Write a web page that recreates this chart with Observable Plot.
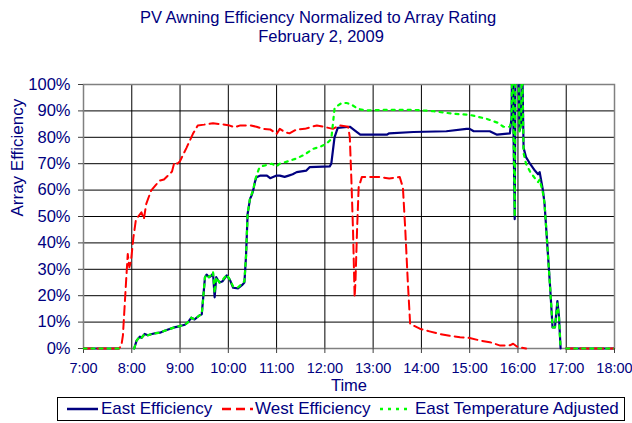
<!DOCTYPE html>
<html><head><meta charset="utf-8">
<script src="https://cdn.jsdelivr.net/npm/d3@7"></script>
<script src="https://cdn.jsdelivr.net/npm/@observablehq/plot@0.6"></script>
<style>
body{margin:0;background:#fff;font-family:"Liberation Sans",Arial,sans-serif;}
#wrap{position:relative;width:632px;height:423px;overflow:hidden;}
#legend{position:absolute;left:57px;top:397px;width:566px;height:22px;border:1px solid #000;box-sizing:content-box;}
.li{position:absolute;top:0;height:22px;line-height:22px;font-size:17px;color:#000080;white-space:nowrap;}
.ls{position:absolute;top:0;}
</style></head><body>
<div id="wrap"><div id="chart"></div><div id="legend"></div></div>
<script>
const title1 = "PV Awning Efficiency Normalized to Array Rating";
const title2 = "February 2, 2009";
const xLabel = "Time";
const yLabel = "Array Efficiency";
const seriesNames = ["East Efficiency", "West Efficiency", "East Temperature Adjusted"];
const xTicks = [7, 8, 9, 10, 11, 12, 13, 14, 15, 16, 17, 18];
const yTicks = [0, 0.1, 0.2, 0.3, 0.4, 0.5, 0.6, 0.7, 0.8, 0.9, 1.0];

const eastTime = ["7:00","7:44","7:50","8:03","8:06","8:10","8:12","8:16","8:20","8:25","8:30","8:35","8:40","8:47","8:53","9:00","9:06","9:10","9:14","9:18","9:24","9:27","9:29","9:31","9:33","9:36","9:39","9:41","9:43","9:45","9:49","9:53","9:58","10:02","10:06","10:12","10:17","10:20","10:22","10:24","10:27","10:29","10:31","10:33","10:35","10:40","10:48","10:52","11:00","11:04","11:10","11:15","11:20","11:25","11:37","11:41","12:06","12:08","12:12","12:16","12:31","12:37","12:44","13:17","13:20","13:50","14:31","14:56","15:00","15:05","15:25","15:34","15:50","15:52","15:53","15:56","15:57","16:00","16:02","16:04","16:05","16:07","16:10","16:15","16:21","16:25","16:27","16:31","16:33","16:35","16:40","16:43","16:46","16:49","16:51","16:53","16:55","17:00","18:00"];
const eastValue = [0,0,null,0,0.03,0.045,0.04,0.055,0.05,0.055,0.058,0.06,0.066,0.074,0.08,0.085,0.09,0.1,0.117,0.11,0.125,0.13,0.2,0.27,0.28,0.27,0.275,0.285,0.194,0.27,0.25,0.255,0.277,0.26,0.23,0.228,0.24,0.25,0.35,0.51,0.567,0.58,0.6,0.63,0.649,0.655,0.655,0.645,0.655,0.655,0.65,0.655,0.66,0.668,0.674,0.687,0.69,0.7,0.8,0.836,0.84,0.826,0.81,0.81,0.815,0.82,0.823,0.832,0.832,0.823,0.823,0.81,0.815,0.876,1.15,0.49,1.15,1.15,0.826,0.85,1.15,0.76,0.725,0.70,0.674,0.66,0.668,0.60,0.55,0.46,0.232,0.08,0.08,0.18,0.12,0,null,0,0];

const westTime = ["7:00","7:44","7:47","7:49","7:53","7:55","7:57","7:59","8:02","8:05","8:08","8:12","8:15","8:18","8:24","8:30","8:35","8:40","8:45","8:50","8:53","8:57","9:00","9:08","9:16","9:22","9:30","9:41","9:50","10:00","10:08","10:15","10:28","10:35","10:43","10:52","11:00","11:04","11:10","11:16","11:25","11:35","11:50","11:58","12:10","12:18","12:29","12:31","12:33","12:35","12:37","12:38","12:40","12:42","12:46","13:00","13:08","13:20","13:33","13:37","13:40","13:43","13:46","13:58","14:10","14:23","14:35","14:48","15:00","15:13","15:25","15:38","15:50","15:54","16:00","16:10","16:12","17:00","18:00"];
const westValue = [0,0,0.01,0.05,0.258,0.358,0.308,0.33,0.42,0.485,0.5,0.516,0.49,0.548,0.598,0.62,0.636,0.64,0.655,0.67,0.706,0.7,0.71,0.76,0.813,0.845,0.848,0.853,0.85,0.846,0.838,0.845,0.845,0.84,0.832,0.83,0.813,0.832,0.82,0.815,0.83,0.832,0.845,0.84,0.832,0.845,0.84,0.8,0.636,0.447,0.194,0.25,0.447,0.61,0.65,0.65,0.65,0.644,0.65,0.61,0.447,0.258,0.093,0.075,0.065,0.055,0.048,0.043,0.04,0.03,0.024,0.011,0.012,0.018,0.005,0,null,0,0];

const tempTime = ["7:00","7:44","7:50","8:03","8:06","8:10","8:12","8:16","8:20","8:25","8:30","8:35","8:40","8:47","8:53","9:00","9:06","9:10","9:14","9:18","9:24","9:27","9:29","9:31","9:33","9:36","9:39","9:41","9:43","9:45","9:49","9:53","9:58","10:02","10:06","10:12","10:17","10:20","10:22","10:24","10:27","10:29","10:31","10:33","10:35","10:38","10:41","10:54","11:00","11:04","11:15","11:25","11:35","11:45","11:55","12:02","12:08","12:12","12:16","12:21","12:27","12:33","12:41","12:50","13:20","13:50","14:15","14:40","15:00","15:21","15:35","15:42","15:50","15:52","15:53","15:56","15:57","16:00","16:02","16:04","16:05","16:07","16:10","16:15","16:21","16:25","16:27","16:31","16:33","16:35","16:40","16:43","16:46","16:49","16:51","16:53","16:55","17:00","18:00"];
const tempValue = [0,0,null,0,0.03,0.045,0.04,0.055,0.05,0.055,0.058,0.06,0.066,0.074,0.08,0.085,0.09,0.1,0.117,0.11,0.125,0.13,0.2,0.27,0.28,0.27,0.28,0.29,0.21,0.27,0.25,0.26,0.28,0.26,0.235,0.232,0.245,0.255,0.35,0.51,0.57,0.585,0.6,0.635,0.655,0.68,0.69,0.70,0.69,0.70,0.71,0.72,0.735,0.756,0.765,0.775,0.794,0.908,0.92,0.93,0.93,0.924,0.908,0.902,0.904,0.904,0.899,0.889,0.885,0.87,0.855,0.84,0.84,0.87,1.15,0.5,1.15,1.15,0.82,0.85,1.15,0.74,0.70,0.67,0.645,0.63,0.64,0.59,0.55,0.46,0.23,0.08,0.08,0.17,0.12,0,null,0,0];

const toHour = s => { const [h, m] = s.split(":").map(Number); return h + m / 60; };
const zip = (ts, vs) => ts.map((t, i) => ({x: toHour(t), y: vs[i]}));
const east = zip(eastTime, eastValue);
const west = zip(westTime, westValue);
const temp = zip(tempTime, tempValue);

const navy = "#000080";
const colors = ["#000080", "#ff0000", "#00ff00"];
const dashes = [null, "9,5", "3,5"];

const chart = Plot.plot({
  width: 632,
  height: 395,
  marginLeft: 83,
  marginRight: 18,
  marginTop: 84,
  marginBottom: 47,
  style: {fontFamily: "'Liberation Sans', Arial, sans-serif", background: "#fff", overflow: "visible"},
  x: {domain: [7, 18]},
  y: {domain: [0, 1]},
  marks: [
    Plot.gridX(xTicks, {stroke: "#000", strokeOpacity: 1, strokeWidth: 1}),
    Plot.gridY(yTicks, {stroke: "#000", strokeOpacity: 1, strokeWidth: 1}),
    Plot.frame({stroke: "#808080", strokeWidth: 1.5}),
    Plot.axisX(xTicks, {tickFormat: d => d + ":00", tickSize: 5, tickPadding: 9, fontSize: 14.5, fill: navy, stroke: "#404040", label: null}),
    Plot.axisY(yTicks, {tickFormat: d3.format(".0%"), tickSize: 5, tickPadding: 8, fontSize: 16.5, fill: navy, stroke: "#404040", label: null}),
    Plot.line(east, {x: "x", y: "y", stroke: colors[0], strokeWidth: 2.2, clip: true}),
    Plot.line(west, {x: "x", y: "y", stroke: colors[1], strokeWidth: 2, strokeDasharray: dashes[1], clip: true}),
    Plot.line(temp, {x: "x", y: "y", stroke: colors[2], strokeWidth: 2.2, strokeDasharray: dashes[2], clip: true}),
    Plot.text([title1], {frameAnchor: "top", lineAnchor: "middle", dx: -31, dy: -67, fontSize: 16.5, fill: navy, text: d => d}),
    Plot.text([title2], {frameAnchor: "top", lineAnchor: "middle", dx: -28, dy: -48, fontSize: 16.5, fill: navy, text: d => d}),
    Plot.text([xLabel], {frameAnchor: "bottom", lineAnchor: "middle", dy: 37, fontSize: 16.5, fill: navy, text: d => d}),
    Plot.text([yLabel], {frameAnchor: "left", lineAnchor: "middle", dx: -66, rotate: -90, fontSize: 17, fill: navy, text: d => d})
  ]
});
// let lines lying on the 0% baseline show their full stroke width (clip only the top overflow)
chart.querySelectorAll("clipPath rect").forEach(r => {
  const h = parseFloat(r.getAttribute("height"));
  if (!isNaN(h)) r.setAttribute("height", h + 3);
});
document.getElementById("chart").appendChild(chart);

// Legend
const legend = document.getElementById("legend");
const items = [
  {sample: 9, text: 43},
  {sample: 164, text: 197},
  {sample: 322, text: 357}
];
items.forEach((it, i) => {
  const s = document.createElementNS("http://www.w3.org/2000/svg", "svg");
  s.setAttribute("width", 32); s.setAttribute("height", 22);
  s.setAttribute("class", "ls");
  s.style.left = it.sample + "px";
  const l = document.createElementNS("http://www.w3.org/2000/svg", "line");
  l.setAttribute("x1", 0); l.setAttribute("x2", 31); l.setAttribute("y1", 11); l.setAttribute("y2", 11);
  l.setAttribute("stroke", colors[i]); l.setAttribute("stroke-width", 2.5);
  if (dashes[i]) l.setAttribute("stroke-dasharray", dashes[i]);
  s.appendChild(l);
  legend.appendChild(s);
  const t = document.createElement("div");
  t.className = "li"; t.style.left = it.text + "px"; t.textContent = seriesNames[i];
  legend.appendChild(t);
});
</script></body></html>
